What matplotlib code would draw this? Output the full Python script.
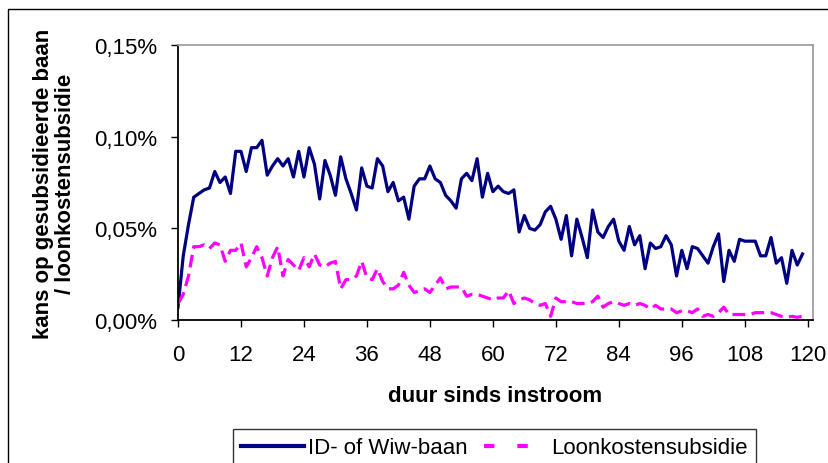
import numpy as np
import matplotlib
matplotlib.use("Agg")
import matplotlib.pyplot as plt
from matplotlib.patches import Rectangle
from matplotlib.ticker import FuncFormatter

plt.rcParams["font.family"] = ["Liberation Sans", "DejaVu Sans"]

# maanden sinds instroom
months = np.arange(0, 120)

# kans (in %) op ID- of Wiw-baan
id_wiw = [
    0.007, 0.035, 0.052, 0.067, 0.069, 0.071, 0.072, 0.081, 0.075, 0.078,
    0.069, 0.092, 0.092, 0.081, 0.094, 0.094, 0.098, 0.079, 0.084, 0.088,
    0.084, 0.088, 0.078, 0.092, 0.078, 0.094, 0.085, 0.066, 0.087, 0.079,
    0.068, 0.089, 0.077, 0.069, 0.060, 0.083, 0.073, 0.072, 0.088, 0.084,
    0.070, 0.075, 0.065, 0.067, 0.055, 0.073, 0.077, 0.077, 0.084, 0.077,
    0.075, 0.068, 0.065, 0.061, 0.077, 0.080, 0.076, 0.088, 0.067, 0.080,
    0.070, 0.073, 0.070, 0.069, 0.071, 0.048, 0.057, 0.050, 0.049, 0.052,
    0.059, 0.062, 0.055, 0.044, 0.057, 0.035, 0.055, 0.045, 0.034, 0.060,
    0.048, 0.045, 0.051, 0.055, 0.043, 0.038, 0.051, 0.041, 0.046, 0.028,
    0.042, 0.039, 0.040, 0.046, 0.041, 0.024, 0.038, 0.028, 0.040, 0.039,
    0.035, 0.031, 0.040, 0.047, 0.021, 0.038, 0.032, 0.044, 0.043, 0.043,
    0.043, 0.035, 0.035, 0.045, 0.031, 0.034, 0.020, 0.038, 0.030, 0.036,
]

# kans (in %) op loonkostensubsidie
lks = [
    0.009, 0.014, 0.024, 0.040, 0.040, 0.041, 0.039, 0.042, 0.041, 0.032,
    0.038, 0.038, 0.042, 0.029, 0.034, 0.040, 0.034, 0.024, 0.034, 0.040,
    0.024, 0.033, 0.030, 0.027, 0.034, 0.029, 0.036, 0.030, 0.029, 0.031,
    0.032, 0.017, 0.022, 0.022, 0.024, 0.032, 0.023, 0.022, 0.028, 0.021,
    0.017, 0.017, 0.019, 0.026, 0.019, 0.015, 0.016, 0.017, 0.015, 0.019,
    0.023, 0.017, 0.018, 0.018, 0.018, 0.013, 0.014, 0.014, 0.013, 0.012,
    0.011, 0.012, 0.012, 0.016, 0.009, 0.011, 0.012, 0.011, 0.009, 0.008,
    0.009, 0.002, 0.012, 0.010, 0.010, 0.010, 0.009, 0.009, 0.009, 0.010,
    0.013, 0.007, 0.009, 0.010, 0.009, 0.008, 0.009, 0.008, 0.009, 0.008,
    0.006, 0.008, 0.006, 0.006, 0.006, 0.004, 0.005, 0.005, 0.004, 0.006,
    0.002, 0.003, 0.002, 0.004, 0.007, 0.003, 0.003, 0.003, 0.003, 0.003,
    0.004, 0.004, 0.004, 0.004, 0.003, 0.002, 0.0015, 0.002, 0.0015, 0.002,
]

labels = ["ID- of Wiw-baan", "Loonkostensubsidie"]
xticks = np.arange(0, 121, 12)
yticks = [0.0, 0.05, 0.10, 0.15]

W, H = 829, 464
fig = plt.figure(figsize=(W / 100, H / 100), dpi=100)
ax = fig.add_axes([178 / W, 1 - 321 / H, (813 - 178) / W, (321 - 46) / H])

ax.plot(months, id_wiw, color="#000080", lw=2.3, label=labels[0])
ax.plot(months, lks, color="#FF00FF", lw=2.3, dashes=(4, 2), label=labels[1])

ax.set_xlim(0, 121)
ax.set_ylim(0, 0.15)
ax.set_xticks(xticks)
ax.set_yticks(yticks)
ax.yaxis.set_major_formatter(FuncFormatter(lambda v, p: f"{v:.2f}%".replace(".", ",")))
ax.tick_params(direction="out", length=5, width=1, labelsize=16, colors="black")
ax.tick_params(axis="x", pad=12)
ax.tick_params(axis="y", pad=10)

for s in ("left", "bottom"):
    ax.spines[s].set_color("black")
    ax.spines[s].set_linewidth(1.3)
for s in ("top", "right"):
    ax.spines[s].set_color("#a0a0a0")
    ax.spines[s].set_linewidth(1.3)

ax.set_xlabel("duur sinds instroom", fontsize=16, fontweight="bold", labelpad=15)
ax.set_ylabel("kans op gesubsidieerde baan\n/ loonkostensubsidie",
              fontsize=16, fontweight="bold", labelpad=13, linespacing=1.05)

leg = fig.legend(loc="upper left", bbox_to_anchor=(233 / W, 1 - 430 / H), ncol=2,
                 fontsize=16, frameon=True, fancybox=False, edgecolor="black",
                 handlelength=2.8, columnspacing=0.75, handletextpad=0.2,
                 borderpad=0.38, borderaxespad=0)
leg.get_frame().set_linewidth(1.0)
leg.get_lines()[0].set_linewidth(3)
leg.get_lines()[1].set_linewidth(3)
leg.get_lines()[1].set_dashes((2.5, 5.5))

fig.patches.append(Rectangle((8 / W, -0.1), 1.0, 1.1 - 10 / H,
                             transform=fig.transFigure, fill=False,
                             ec="black", lw=1.0))

fig.savefig("out.png", dpi=100)
